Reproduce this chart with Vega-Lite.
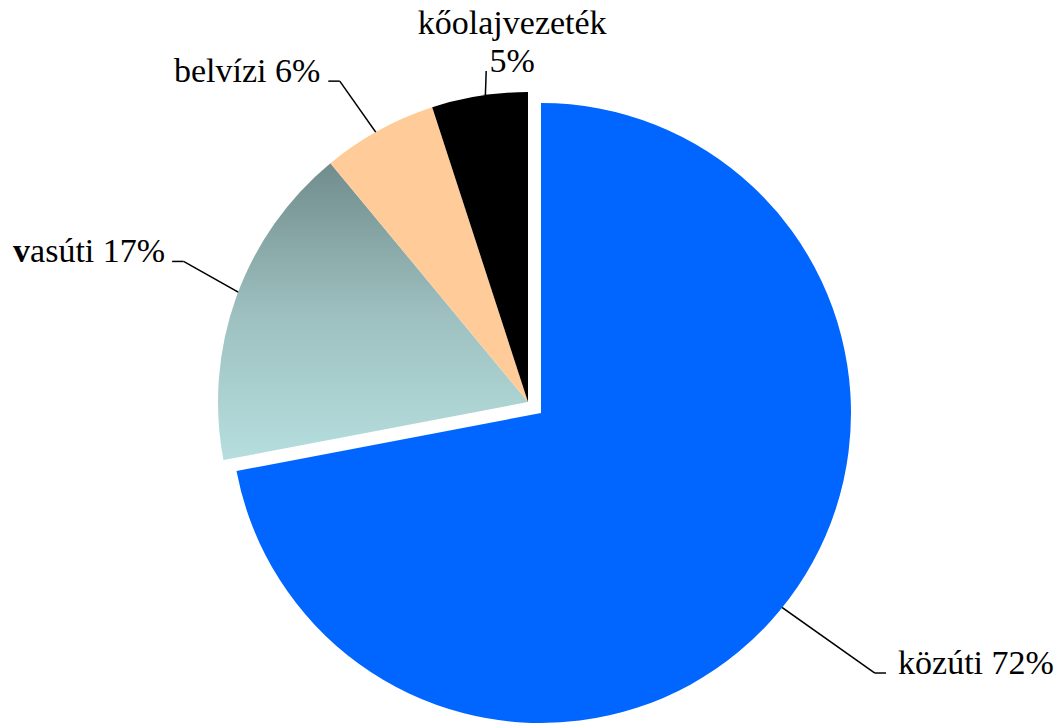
{
  "$schema": "https://vega.github.io/schema/vega-lite/v6.json",
  "width": 1058,
  "height": 725,
  "autosize": {"type": "fit", "contains": "padding"},
  "padding": 0,
  "background": "white",
  "config": {"view": {"stroke": null}},
  "data": {"values": [
    {"mode": "közúti", "pct": 72, "rank": 1},
    {"mode": "vasúti", "pct": 17, "rank": 2},
    {"mode": "belvízi", "pct": 6, "rank": 3},
    {"mode": "kőolajvezeték", "pct": 5, "rank": 4}
  ]},
  "transform": [
    {"stack": "pct", "groupby": [], "sort": [{"field": "rank", "order": "ascending"}], "as": ["s0", "s1"]},
    {"calculate": "(datum.s0 + datum.s1) / 200 * 2 * PI", "as": "mid"},
    {"calculate": "datum.mode === 'közúti' ? 1.42 : datum.mode === 'kőolajvezeték' ? 1.076 : 1.2", "as": "k"},
    {"calculate": "datum.mid + (datum.mode === 'közúti' ? -1.6 : datum.mode === 'vasúti' ? 2.4 : datum.mode === 'belvízi' ? -1.6 : 1.8) * PI / 180", "as": "ang"},
    {"calculate": "0.9 * sin(datum.mid)", "as": "x0"},
    {"calculate": "0.9 * cos(datum.mid)", "as": "y0"},
    {"calculate": "datum.k * sin(datum.ang)", "as": "ex"},
    {"calculate": "datum.k * cos(datum.ang)", "as": "ey"},
    {"calculate": "datum.ex + (datum.mode === 'közúti' ? 0.036 : datum.mode === 'kőolajvezeték' ? 0 : -0.037)", "as": "hx"}
  ],
  "layer": [
    {
      "mark": {"type": "rule", "color": "#000000", "strokeWidth": 1.5},
      "encoding": {
        "x": {"field": "x0", "type": "quantitative", "scale": {"domain": [-1.70323, 1.70968], "nice": false, "zero": false}, "axis": null},
        "y": {"field": "y0", "type": "quantitative", "scale": {"domain": [-1.04194, 1.29677], "nice": false, "zero": false}, "axis": null},
        "x2": {"field": "ex"},
        "y2": {"field": "ey"}
      }
    },
    {
      "mark": {"type": "rule", "color": "#000000", "strokeWidth": 1.5},
      "encoding": {
        "x": {"field": "ex", "type": "quantitative", "scale": {"domain": [-1.70323, 1.70968], "nice": false, "zero": false}, "axis": null},
        "y": {"field": "ey", "type": "quantitative", "scale": {"domain": [-1.04194, 1.29677], "nice": false, "zero": false}, "axis": null},
        "x2": {"field": "hx"},
        "y2": {"field": "ey"}
      }
    },
    {
      "transform": [{"filter": "datum.mode === 'közúti'"}],
      "mark": {"type": "arc", "outerRadius": 310, "fill": "#0066FF", "xOffset": 13, "yOffset": 11},
      "encoding": {
        "x": {"datum": 0, "type": "quantitative", "scale": {"domain": [-1.70323, 1.70968], "nice": false, "zero": false}, "axis": null},
        "y": {"datum": 0, "type": "quantitative", "scale": {"domain": [-1.04194, 1.29677], "nice": false, "zero": false}, "axis": null},
        "theta": {"field": "s0", "type": "quantitative", "stack": null, "scale": {"domain": [0, 100], "range": [0, 6.283185307179586]}},
        "theta2": {"field": "s1"}
      }
    },
    {
      "transform": [{"filter": "datum.mode === 'vasúti'"}],
      "mark": {"type": "arc", "outerRadius": 310, "fill": {"gradient": "linear", "x1": 0, "y1": 0, "x2": 0, "y2": 1, "stops": [{"offset": 0, "color": "#718C8C"}, {"offset": 0.5, "color": "#9DBFBF"}, {"offset": 1, "color": "#B6DEDE"}]}},
      "encoding": {
        "x": {"datum": 0, "type": "quantitative", "scale": {"domain": [-1.70323, 1.70968], "nice": false, "zero": false}, "axis": null},
        "y": {"datum": 0, "type": "quantitative", "scale": {"domain": [-1.04194, 1.29677], "nice": false, "zero": false}, "axis": null},
        "theta": {"field": "s0", "type": "quantitative", "stack": null, "scale": {"domain": [0, 100], "range": [0, 6.283185307179586]}},
        "theta2": {"field": "s1"}
      }
    },
    {
      "transform": [{"filter": "datum.mode === 'belvízi'"}],
      "mark": {"type": "arc", "outerRadius": 310, "fill": "#FFCC99"},
      "encoding": {
        "x": {"datum": 0, "type": "quantitative", "scale": {"domain": [-1.70323, 1.70968], "nice": false, "zero": false}, "axis": null},
        "y": {"datum": 0, "type": "quantitative", "scale": {"domain": [-1.04194, 1.29677], "nice": false, "zero": false}, "axis": null},
        "theta": {"field": "s0", "type": "quantitative", "stack": null, "scale": {"domain": [0, 100], "range": [0, 6.283185307179586]}},
        "theta2": {"field": "s1"}
      }
    },
    {
      "transform": [{"filter": "datum.mode === 'kőolajvezeték'"}],
      "mark": {"type": "arc", "outerRadius": 310, "fill": "#000000"},
      "encoding": {
        "x": {"datum": 0, "type": "quantitative", "scale": {"domain": [-1.70323, 1.70968], "nice": false, "zero": false}, "axis": null},
        "y": {"datum": 0, "type": "quantitative", "scale": {"domain": [-1.04194, 1.29677], "nice": false, "zero": false}, "axis": null},
        "theta": {"field": "s0", "type": "quantitative", "stack": null, "scale": {"domain": [0, 100], "range": [0, 6.283185307179586]}},
        "theta2": {"field": "s1"}
      }
    },
    {
      "transform": [{"filter": "datum.mode === 'közúti'"}, {"calculate": "datum.mode + ' ' + datum.pct + '%'", "as": "label"}],
      "mark": {"type": "text", "font": "Liberation Serif", "fontSize": 34, "color": "#000000", "align": "left", "baseline": "alphabetic", "dx": 12, "dy": 1},
      "encoding": {
        "x": {"field": "hx", "type": "quantitative", "scale": {"domain": [-1.70323, 1.70968], "nice": false, "zero": false}, "axis": null},
        "y": {"field": "ey", "type": "quantitative", "scale": {"domain": [-1.04194, 1.29677], "nice": false, "zero": false}, "axis": null},
        "text": {"field": "label"}
      }
    },
    {
      "transform": [{"filter": "datum.mode === 'belvízi'"}, {"calculate": "datum.mode + ' ' + datum.pct + '%'", "as": "label"}],
      "mark": {"type": "text", "font": "Liberation Serif", "fontSize": 34, "color": "#000000", "align": "right", "baseline": "alphabetic", "dx": -8, "dy": 1},
      "encoding": {
        "x": {"field": "hx", "type": "quantitative", "scale": {"domain": [-1.70323, 1.70968], "nice": false, "zero": false}, "axis": null},
        "y": {"field": "ey", "type": "quantitative", "scale": {"domain": [-1.04194, 1.29677], "nice": false, "zero": false}, "axis": null},
        "text": {"field": "label"}
      }
    },
    {
      "transform": [{"filter": "datum.mode === 'vasúti'"}, {"calculate": "substring(datum.mode, 1) + ' ' + datum.pct + '%'", "as": "label"}],
      "mark": {"type": "text", "font": "Liberation Serif", "fontSize": 34, "color": "#000000", "align": "right", "baseline": "alphabetic", "dx": -7, "dy": 1},
      "encoding": {
        "x": {"field": "hx", "type": "quantitative", "scale": {"domain": [-1.70323, 1.70968], "nice": false, "zero": false}, "axis": null},
        "y": {"field": "ey", "type": "quantitative", "scale": {"domain": [-1.04194, 1.29677], "nice": false, "zero": false}, "axis": null},
        "text": {"field": "label"}
      }
    },
    {
      "transform": [{"filter": "datum.mode === 'vasúti'"}, {"calculate": "substring(datum.mode, 0, 1)", "as": "label"}],
      "mark": {"type": "text", "font": "Liberation Serif", "fontSize": 34, "fontWeight": "bold", "color": "#000000", "align": "right", "baseline": "alphabetic", "dx": -142, "dy": 1},
      "encoding": {
        "x": {"field": "hx", "type": "quantitative", "scale": {"domain": [-1.70323, 1.70968], "nice": false, "zero": false}, "axis": null},
        "y": {"field": "ey", "type": "quantitative", "scale": {"domain": [-1.04194, 1.29677], "nice": false, "zero": false}, "axis": null},
        "text": {"field": "label"}
      }
    },
    {
      "transform": [{"filter": "datum.mode === 'kőolajvezeték'"}, {"calculate": "datum.mode + '\\n' + datum.pct + '%'", "as": "label"}],
      "mark": {"type": "text", "font": "Liberation Serif", "fontSize": 34, "color": "#000000", "align": "center", "baseline": "alphabetic", "lineBreak": "\n", "lineHeight": 38, "dx": 26, "dy": -37},
      "encoding": {
        "x": {"field": "hx", "type": "quantitative", "scale": {"domain": [-1.70323, 1.70968], "nice": false, "zero": false}, "axis": null},
        "y": {"field": "ey", "type": "quantitative", "scale": {"domain": [-1.04194, 1.29677], "nice": false, "zero": false}, "axis": null},
        "text": {"field": "label"}
      }
    }
  ]
}
